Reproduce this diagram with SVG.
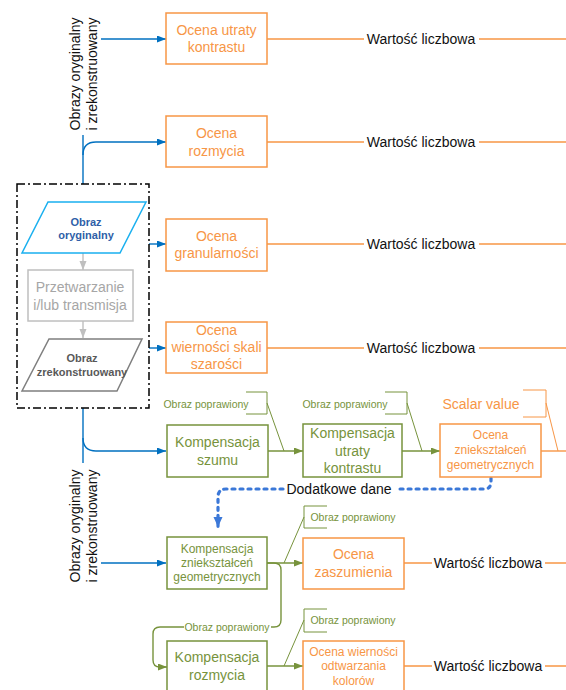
<svg xmlns="http://www.w3.org/2000/svg" width="566" height="690" viewBox="0 0 566 690">
  <style>
    text { font-family: "Liberation Sans", Arial, sans-serif; dominant-baseline: central; text-anchor: middle; }
    .box { fill: #fff; stroke-width: 1.5; }
    .or { stroke: #f79646; }
    .gr { stroke: #77933c; }
    .tor { fill: #f79646; font-size: 14px; }
    .tor12 { fill: #f79646; font-size: 12px; }
    .tgr { fill: #77933c; font-size: 14px; }
    .tgr12 { fill: #77933c; font-size: 12px; }
    .note { fill: #77933c; font-size: 10.5px; }
    .val { fill: #111; font-size: 14px; }
    .lbl { fill: #111; font-size: 14px; }
    .wire { fill: none; stroke-width: 1.4; }
    .blue { stroke: #0070c0; }
    .green { stroke: #77933c; }
    .orange { stroke: #f79646; }
    .grey { stroke: #bfbfbf; }
    .call { fill: none; stroke-width: 1; }
    .dots { fill: none; stroke: #3b78d8; stroke-width: 3.2; stroke-dasharray: 3 5; stroke-linecap: round; }
  </style>
  <defs>
    <marker id="ahBlue" markerUnits="userSpaceOnUse" markerWidth="10" markerHeight="8" refX="9" refY="3.5" orient="auto">
      <path d="M0,0 L9,3.5 L0,7 z" fill="#0070c0"/>
    </marker>
    <marker id="ahGreen" markerUnits="userSpaceOnUse" markerWidth="10" markerHeight="8" refX="9" refY="3.5" orient="auto">
      <path d="M0,0 L9,3.5 L0,7 z" fill="#77933c"/>
    </marker>
    <marker id="ahGrey" markerUnits="userSpaceOnUse" markerWidth="10" markerHeight="8" refX="9" refY="3.5" orient="auto">
      <path d="M0,0 L9,3.5 L0,7 z" fill="#bfbfbf"/>
    </marker>
    <marker id="ahDots" markerUnits="userSpaceOnUse" markerWidth="12" markerHeight="10" refX="10" refY="4.5" orient="auto">
      <path d="M0,0 L10,4.5 L0,9 z" fill="#3b78d8"/>
    </marker>
  </defs>

  <!-- connectors -->
  <g id="connectors">
    <!-- upper feed of the two images -->
    <path class="wire blue" d="M83,135 V184"/>
    <path class="wire blue" d="M83,155 Q83,142 96,142 H166" marker-end="url(#ahBlue)"/>
    <path class="wire blue" d="M101,39 H166" marker-end="url(#ahBlue)"/>
    <path class="wire blue" d="M149,244 H166" marker-end="url(#ahBlue)"/>
    <path class="wire blue" d="M149,348 H166" marker-end="url(#ahBlue)"/>
    <!-- lower feed -->
    <path class="wire blue" d="M83,408 V463"/>
    <path class="wire blue" d="M83,438 Q83,451 96,451 H166" marker-end="url(#ahBlue)"/>
    <path class="wire blue" d="M101,563 H166" marker-end="url(#ahBlue)"/>
    <!-- inside the processing frame -->
    <path class="wire grey" d="M83,253 V270" marker-end="url(#ahGrey)"/>
    <path class="wire grey" d="M83,321 V338" marker-end="url(#ahGrey)"/>

    <!-- scalar outputs -->
    <path class="wire orange" d="M267,39 H364 M479,39 H566"/>
    <path class="wire orange" d="M267,142 H364 M479,142 H566"/>
    <path class="wire orange" d="M267,244 H364 M479,244 H566"/>
    <path class="wire orange" d="M267,348 H364 M479,348 H566"/>
    <path class="wire orange" d="M541,451 H566"/>
    <path class="wire orange" d="M404,563 H432 M545,563 H566"/>
    <path class="wire orange" d="M404,666 H432 M545,666 H566"/>

    <!-- compensation chain -->
    <path class="wire green" d="M268,451 H303" marker-end="url(#ahGreen)"/>
    <path class="wire green" d="M402,451 H440" marker-end="url(#ahGreen)"/>
    <path class="wire green" d="M267,563 H303" marker-end="url(#ahGreen)"/>
    <path class="wire green" d="M267,666 H303" marker-end="url(#ahGreen)"/>
    <path class="wire green" d="M267,563 H274 Q281,563 281,570 V620 Q281,627 274,627 H271"/>
    <path class="wire green" d="M184,627 H160 Q153,627 153,634 V660 Q153,667 160,667 H167" marker-end="url(#ahGreen)"/>
    <text x="227" y="627" class="note">Obraz poprawiony</text>

    <!-- additional data link -->
    <path class="dots" d="M491,478 V482 Q491,489 484,489 H396"/>
    <path class="dots" d="M283,489 H226 Q218,489 218,497 V527" marker-end="url(#ahDots)"/>
    <text x="339" y="489" class="lbl">Dodatkowe dane</text>

    <!-- output value labels -->
    <text x="421" y="39" class="val">Wartość liczbowa</text>
    <text x="421" y="142" class="val">Wartość liczbowa</text>
    <text x="421" y="244" class="val">Wartość liczbowa</text>
    <text x="421" y="348" class="val">Wartość liczbowa</text>
    <text x="488" y="563" class="val">Wartość liczbowa</text>
    <text x="488" y="666" class="val">Wartość liczbowa</text>

    <!-- input labels -->
    <text transform="translate(83,74) rotate(-90)" class="lbl"><tspan x="0" y="-8.5">Obrazy oryginalny</tspan><tspan x="0" y="8.5">i zrekonstruowany</tspan></text>
    <text transform="translate(83,526) rotate(-90)" class="lbl"><tspan x="0" y="-8.5">Obrazy oryginalny</tspan><tspan x="0" y="8.5">i zrekonstruowany</tspan></text>

    <!-- callouts -->
    <path class="call green" d="M246,392 H267 V414 H246 M267,403 L284,451"/>
    <text x="206" y="404" class="note">Obraz poprawiony</text>
    <path class="call green" d="M385,392 H407 V414 H385 M407,403 L422,451"/>
    <text x="345" y="404" class="note">Obraz poprawiony</text>
    <path class="call orange" d="M523,390 H546 V417 H523 M546,403 L558,451"/>
    <text x="481" y="404" class="tor">Scalar value</text>
    <path class="call green" d="M327,506 H304 V528 H327 M304,517 L284,563"/>
    <text x="353" y="517" class="note">Obraz poprawiony</text>
    <path class="call green" d="M327,609 H304 V632 H327 M304,620 L284,666"/>
    <text x="353" y="620" class="note">Obraz poprawiony</text>
  </g>

  <!-- processing frame -->
  <g id="frame">
    <rect x="17" y="184" width="132" height="224" fill="none" stroke="#000" stroke-width="1.5" stroke-dasharray="8 3 2 3"/>
  </g>
  <g id="obraz-oryginalny">
    <polygon points="48,202 146,202 120,253 22,253" fill="#fff" stroke="#1ab0ef" stroke-width="1.5"/>
    <text x="86" y="222" font-size="11" font-weight="bold" fill="#2f5fa8">Obraz</text>
    <text x="86" y="235" font-size="11" font-weight="bold" fill="#2f5fa8">oryginalny</text>
  </g>
  <g id="przetwarzanie">
    <rect x="28" y="270" width="105" height="51" fill="#fff" stroke="#bfbfbf" stroke-width="1.5"/>
    <text x="80" y="287" font-size="14" fill="#a6a6a6">Przetwarzanie</text>
    <text x="80" y="305" font-size="14" fill="#a6a6a6">i/lub transmisja</text>
  </g>
  <g id="obraz-zrekonstruowany">
    <polygon points="49,339 142,339 117,391 22,391" fill="#fff" stroke="#7f7f7f" stroke-width="1.5"/>
    <text x="82" y="358" font-size="11" font-weight="bold" fill="#595959">Obraz</text>
    <text x="82" y="372" font-size="11" font-weight="bold" fill="#595959">zrekonstruowany</text>
  </g>

  <!-- assessment nodes -->
  <g id="ocena-kontrastu">
    <rect class="box or" x="166" y="13" width="101" height="51"/>
    <text x="216.5" y="30" class="tor">Ocena utraty</text>
    <text x="216.5" y="47" class="tor">kontrastu</text>
  </g>
  <g id="ocena-rozmycia">
    <rect class="box or" x="166" y="116" width="101" height="51"/>
    <text x="216.5" y="133" class="tor">Ocena</text>
    <text x="216.5" y="151" class="tor">rozmycia</text>
  </g>
  <g id="ocena-granularnosci">
    <rect class="box or" x="166" y="219" width="101" height="52"/>
    <text x="216.5" y="236" class="tor">Ocena</text>
    <text x="216.5" y="253" class="tor">granularności</text>
  </g>
  <g id="ocena-szarosci">
    <rect class="box or" x="166" y="322" width="101" height="51"/>
    <text x="216.5" y="330" class="tor">Ocena</text>
    <text x="216.5" y="347" class="tor">wierności skali</text>
    <text x="216.5" y="364" class="tor">szarości</text>
  </g>

  <!-- compensation nodes -->
  <g id="kompensacja-szumu">
    <rect class="box gr" x="167" y="425" width="101" height="52"/>
    <text x="217.5" y="442" class="tgr">Kompensacja</text>
    <text x="217.5" y="460" class="tgr">szumu</text>
  </g>
  <g id="kompensacja-kontrastu">
    <rect class="box gr" x="303" y="424" width="99" height="53"/>
    <text x="352.5" y="433" class="tgr">Kompensacja</text>
    <text x="352.5" y="451" class="tgr">utraty</text>
    <text x="352.5" y="468" class="tgr">kontrastu</text>
  </g>
  <g id="ocena-geometrii">
    <rect class="box or" x="440" y="424" width="101" height="53"/>
    <text x="490.5" y="435" class="tor12">Ocena</text>
    <text x="490.5" y="450" class="tor12">zniekształceń</text>
    <text x="490.5" y="465" class="tor12">geometrycznych</text>
  </g>
  <g id="kompensacja-geometrii">
    <rect class="box gr" x="167" y="537" width="100" height="52"/>
    <text x="217" y="549" class="tgr12">Kompensacja</text>
    <text x="217" y="563" class="tgr12">zniekształceń</text>
    <text x="217" y="577" class="tgr12">geometrycznych</text>
  </g>
  <g id="ocena-zaszumienia">
    <rect class="box or" x="303" y="538" width="101" height="51"/>
    <text x="353.5" y="554" class="tor">Ocena</text>
    <text x="353.5" y="572" class="tor">zaszumienia</text>
  </g>
  <g id="kompensacja-rozmycia">
    <rect class="box gr" x="167" y="641" width="100" height="53"/>
    <text x="217" y="657" class="tgr">Kompensacja</text>
    <text x="217" y="675" class="tgr">rozmycia</text>
  </g>
  <g id="ocena-kolorow">
    <rect class="box or" x="303" y="641" width="101" height="53"/>
    <text x="353.5" y="652" class="tor12">Ocena wierności</text>
    <text x="353.5" y="666" class="tor12">odtwarzania</text>
    <text x="353.5" y="681" class="tor12">kolorów</text>
  </g>
</svg>
